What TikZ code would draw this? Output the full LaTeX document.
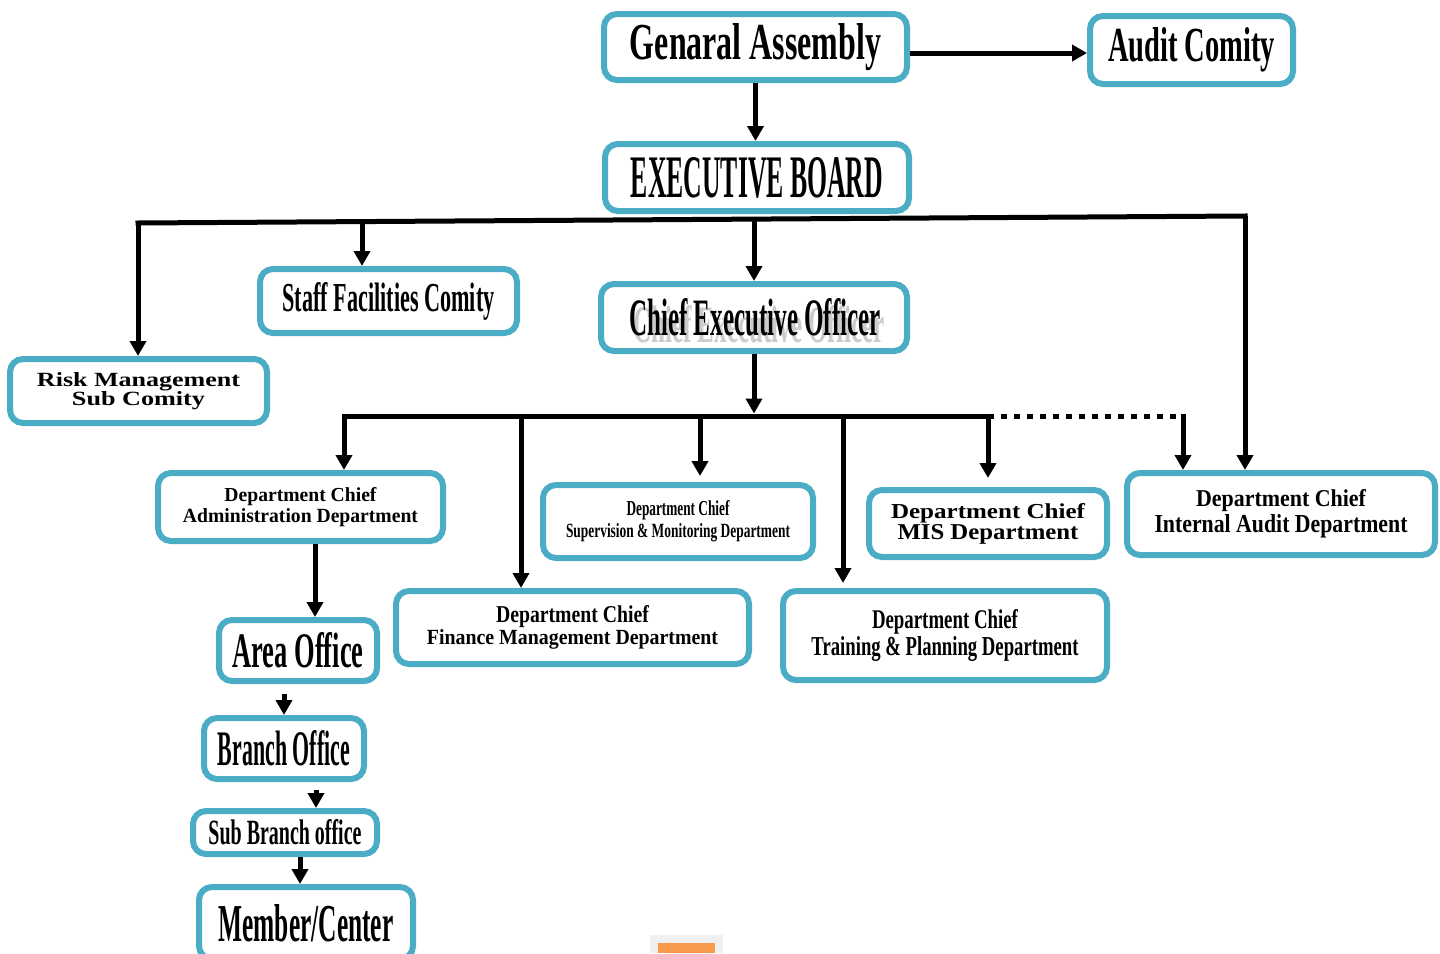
\documentclass[tikz,border=0pt]{standalone}
\usepackage{fontspec}
\setmainfont{Liberation Serif}
\usepackage{graphicx}
\usetikzlibrary{arrows.meta,calc}
\definecolor{boxblue}{HTML}{4BACC6}
\definecolor{artorange}{HTML}{F99B4B}
\newcommand\fitt[3]{\resizebox{#1pt}{#2pt}{#3}}
\tikzset{
  orgbox/.style={draw=boxblue, line width=6pt, rounded corners=13pt, fill=white,
    inner sep=0pt, align=center, font=\bfseries},
  conn/.style={line width=5pt, draw=black},
  arr/.style={conn, -{Triangle[length=15pt,width=16pt]}},
  bus/.style={conn, line cap=rect},
  dotbus/.style={conn, dash pattern=on 6pt off 7pt},
}
\begin{document}
\begin{tikzpicture}[x=1pt,y=-1pt]
\useasboundingbox (0,0) rectangle (1440,953);
\clip (0,0) rectangle (1440,953);
\fill[white] (0,0) rectangle (1440,953);

% ---- boxes ----
\node[orgbox, minimum width=303pt, minimum height=66pt] (ga) at (755.5,47) {\fitt{251}{36}{Genaral Assembly}};
\node[orgbox, minimum width=203pt, minimum height=68pt] (ac) at (1191.5,50) {\fitt{167}{34}{Audit Comity}};
\node[orgbox, minimum width=304pt, minimum height=67pt] (eb) at (757,177.5) {\fitt{252}{40}{EXECUTIVE BOARD}};
\node[orgbox, minimum width=257pt, minimum height=64pt] (sf) at (388.5,301) {\fitt{212}{29}{Staff Facilities Comity}};
\node[orgbox, minimum width=306pt, minimum height=67pt] (ceo) at (754,317.5) {};
\node[text=gray!40, font=\bfseries, inner sep=0pt] (ceoshadow) at (759,324) {\fitt{252}{37}{Chief Executive Officer}};
\node[font=\bfseries, inner sep=0pt] (ceotext) at (755,317) {\fitt{252}{37}{Chief Executive Officer}};
\node[orgbox, minimum width=257pt, minimum height=64pt, font=\bfseries\fontsize{12}{19}\selectfont] (risk) at (138.5,391)
  {\fitt{203}{14}{Risk Management}\\\fitt{133}{14}{Sub Comity}};
\node[orgbox, minimum width=285pt, minimum height=68pt, font=\bfseries\fontsize{12}{21}\selectfont] (adm) at (300.5,507)
  {\fitt{152}{14}{Department Chief}\\\fitt{235}{14}{Administration Department}};
\node[orgbox, minimum width=270pt, minimum height=73pt, font=\bfseries\fontsize{12}{22}\selectfont] (sup) at (678,521.5)
  {\fitt{103}{15}{Department Chief}\\\fitt{224}{14}{Supervision \& Monitoring Department}};
\node[orgbox, minimum width=238pt, minimum height=67pt, font=\bfseries\fontsize{12}{21}\selectfont] (mis) at (988,523.5)
  {\fitt{194}{15}{Department Chief}\\\fitt{181}{15}{MIS Department}};
\node[orgbox, minimum width=308pt, minimum height=82pt, font=\bfseries\fontsize{12}{26}\selectfont] (ia) at (1281,514)
  {\fitt{170}{17}{Department Chief}\\\fitt{253}{18}{Internal Audit Department}};
\node[orgbox, minimum width=353pt, minimum height=73pt, font=\bfseries\fontsize{12}{22}\selectfont] (fin) at (572.5,627.5)
  {\fitt{153}{17}{Department Chief}\\\fitt{291}{15}{Finance Management Department}};
\node[orgbox, minimum width=324pt, minimum height=89pt, font=\bfseries\fontsize{12}{27}\selectfont] (tr) at (945,635.5)
  {\fitt{146}{19}{Department Chief}\\\fitt{267}{19}{Training \& Planning Department}};
\node[orgbox, minimum width=158pt, minimum height=61pt] (area) at (298,650.5) {\fitt{131}{35}{Area Office}};
\node[orgbox, minimum width=160pt, minimum height=61pt] (br) at (284,748.5) {\fitt{132}{35}{Branch Office}};
\node[orgbox, minimum width=184pt, minimum height=43pt] (sb) at (285,832.5) {\fitt{153}{25}{Sub Branch office}};
\node[orgbox, minimum width=214pt, minimum height=72pt] (mem) at (306,923) {\fitt{175}{37}{Member/Center}};

% ---- top connectors ----
\draw[arr] ([yshift=-6pt]ga.east) -- ([yshift=-6pt]ga.east -| ac.west);
\draw[arr] (ga.south) -- (ga.south |- eb.north);

% ---- executive board bus ----
\coordinate (bL) at (138,223);
\coordinate (bS) at (362,221.6);
\coordinate (bC) at (754,219.1);
\coordinate (bR) at (1245,216);
\draw[bus] (bL) -- (bR);
\draw[arr] (bL) -- (bL |- risk.north);
\draw[arr] (bS) -- (bS |- sf.north);
\draw[arr] (bC) -- (bC |- ceo.north);
\draw[arr] (bR) -- (bR |- ia.north);

% ---- CEO bus ----
\coordinate (cL) at (344,416);
\coordinate (cF) at (521,416);
\coordinate (cM) at (754,416);
\coordinate (cS) at (700,416);
\coordinate (cT) at (843,416);
\coordinate (cI) at (988,416);
\coordinate (cR) at (1183,416);
\draw[arr] (ceo.south) -- ([yshift=2.5pt]cM);
\draw[bus] (cL) -- (cI);
\draw[dotbus] (cI) -- (cR);
\draw[arr] (cL) -- (cL |- adm.north);
\draw[arr] (cF) -- (cF |- fin.north);
\draw[arr] (cS) -- ([yshift=6pt]cS |- sup.north);
\draw[arr] (cT) -- ([yshift=5pt]cT |- tr.north);
\draw[arr] (cI) -- ([yshift=9pt]cI |- mis.north);
\draw[arr] ([yshift=2.5pt]cR) -- (cR |- ia.north);

% ---- field chain ----
\draw[arr] ([xshift=14.5pt]adm.south) -- ([xshift=14.5pt]adm.south |- area.north);
\draw[arr] ([yshift=-10pt]area.south -| br.north) -- (br.north);
\draw[arr] ([yshift=-8pt,xshift=32pt]br.south) -- ([xshift=32pt]br.south |- sb.north);
\draw[arr] ([xshift=15pt]sb.south) -- ([xshift=15pt]sb.south |- mem.north);

% ---- cut-off artefact at bottom ----
\fill[gray!12] (650,935) rectangle (723,953);
\fill[artorange] (658,943) rectangle (715,953);
\end{tikzpicture}
\end{document}
